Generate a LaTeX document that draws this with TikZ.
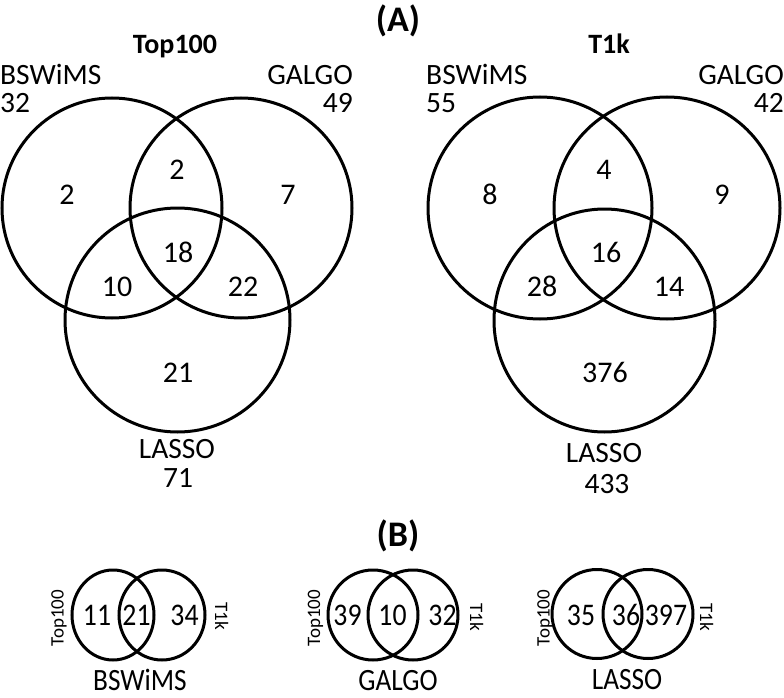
\documentclass[tikz,border=0pt]{standalone}
\usepackage{fontspec}
\setmainfont{Carlito}
\begin{document}
\begin{tikzpicture}[x=1pt,y=-1pt,
  venn/.style={line width=3pt},
  lbl/.style={inner sep=0pt,text height=19pt,text depth=0pt,font=\fontsize{29.5}{32}\selectfont},
  num/.style={inner sep=0pt,text height=19pt,text depth=0pt,font=\fontsize{30}{32}\selectfont},
  ttl/.style={inner sep=0pt,text height=18pt,text depth=0pt,font=\fontsize{28}{30}\selectfont\bfseries},
  big/.style={inner sep=0pt,font=\fontsize{36}{38}\selectfont\bfseries},
  bnum/.style={inner sep=0pt,text height=20pt,text depth=0pt,font=\fontsize{31.5}{34}\selectfont,xscale=0.88,transform shape},
  side/.style={inner sep=0pt,text height=12pt,text depth=0pt,font=\fontsize{19}{21}\selectfont},
  blbl/.style={inner sep=0pt,text height=20pt,text depth=0pt,font=\fontsize{31}{34}\selectfont,xscale=0.88,transform shape}]
\useasboundingbox (0,0) rectangle (784,698);
% (A)
\node[big] (A) at (398,21) {(A)};
% ---- Top100 ----
\draw[venn] (112,208) ellipse [x radius=110, y radius=110];
\draw[venn] (241,208) ellipse [x radius=111, y radius=110];
\draw[venn] (177.5,320) ellipse [x radius=112.5, y radius=112];
\node[ttl] (t1) at (175,45) {Top100};
\node[lbl,anchor=west] (t1b) at (0,75) {BSWiMS};
\node[lbl,anchor=west] (t1bn) at (0,103) {32};
\node[lbl,anchor=east] (t1g) at (353,75) {GALGO};
\node[lbl,anchor=east] (t1gn) at (353,103) {49};
\node[num] (t1r1) at (67,195) {2};
\node[num] (t1r2) at (177,170) {2};
\node[num] (t1r3) at (288,195) {7};
\node[num] (t1r4) at (178,253) {18};
\node[num] (t1r5) at (117,287) {10};
\node[num] (t1r6) at (243,287) {22};
\node[num] (t1r7) at (178,373) {21};
\node[lbl] (t1l) at (177,449) {LASSO};
\node[lbl] (t1ln) at (178,478) {71};
% ---- T1k ----
\draw[venn] (540,208) ellipse [x radius=112, y radius=111];
\draw[venn] (667,208) ellipse [x radius=113, y radius=111];
\draw[venn] (604.5,320.5) ellipse [x radius=110.5, y radius=111.5];
\node[ttl] (t2) at (609,45) {T1k};
\node[lbl,anchor=west] (t2b) at (426,75) {BSWiMS};
\node[lbl,anchor=west] (t2bn) at (426,103) {55};
\node[lbl,anchor=east] (t2g) at (784,75) {GALGO};
\node[lbl,anchor=east] (t2gn) at (784,103) {42};
\node[num] (t2r1) at (490,195) {8};
\node[num] (t2r2) at (604,170) {4};
\node[num] (t2r3) at (722,195) {9};
\node[num] (t2r4) at (606,253) {16};
\node[num] (t2r5) at (542,287) {28};
\node[num] (t2r6) at (669,287) {14};
\node[num] (t2r7) at (605,373) {376};
\node[lbl] (t2l) at (604,453) {LASSO};
\node[lbl] (t2ln) at (607,484) {433};
% (B)
\node[big] (B) at (398,536) {(B)};
% ---- bottom BSWiMS ----
\draw[venn] (113,615) ellipse [x radius=41, y radius=45];
\draw[venn] (162,615) ellipse [x radius=43, y radius=45];
\node[bnum] (b1a) at (97,615) {11};
\node[bnum] (b1b) at (136.5,615) {21};
\node[bnum] (b1c) at (184.5,615) {34};
\node[side,rotate=90] (b1t) at (57.5,618) {Top100};
\node[side,rotate=-90] (b1k) at (221,616) {T1k};
\node[blbl] (b1l) at (140,680) {BSWiMS};
% ---- bottom GALGO ----
\draw[venn] (373,615) ellipse [x radius=45, y radius=45];
\draw[venn] (413,615) ellipse [x radius=45, y radius=45];
\node[bnum] (b2a) at (347.5,615) {39};
\node[bnum] (b2b) at (392.5,615) {10};
\node[bnum] (b2c) at (442.5,615) {32};
\node[side,rotate=90] (b2t) at (314,618) {Top100};
\node[side,rotate=-90] (b2k) at (476,617) {T1k};
\node[blbl] (b2l) at (398,680) {GALGO};
% ---- bottom LASSO ----
\draw[venn] (597,614) ellipse [x radius=45, y radius=44.5];
\draw[venn] (648,614) ellipse [x radius=45, y radius=44.5];
\node[bnum] (b3a) at (581,615) {35};
\node[bnum] (b3b) at (626,615) {36};
\node[bnum] (b3c) at (666,615) {397};
\node[side,rotate=90] (b3t) at (543.5,618) {Top100};
\node[side,rotate=-90] (b3k) at (706,617) {T1k};
\node[blbl] (b3l) at (627,679) {LASSO};
\end{tikzpicture}
\end{document}
